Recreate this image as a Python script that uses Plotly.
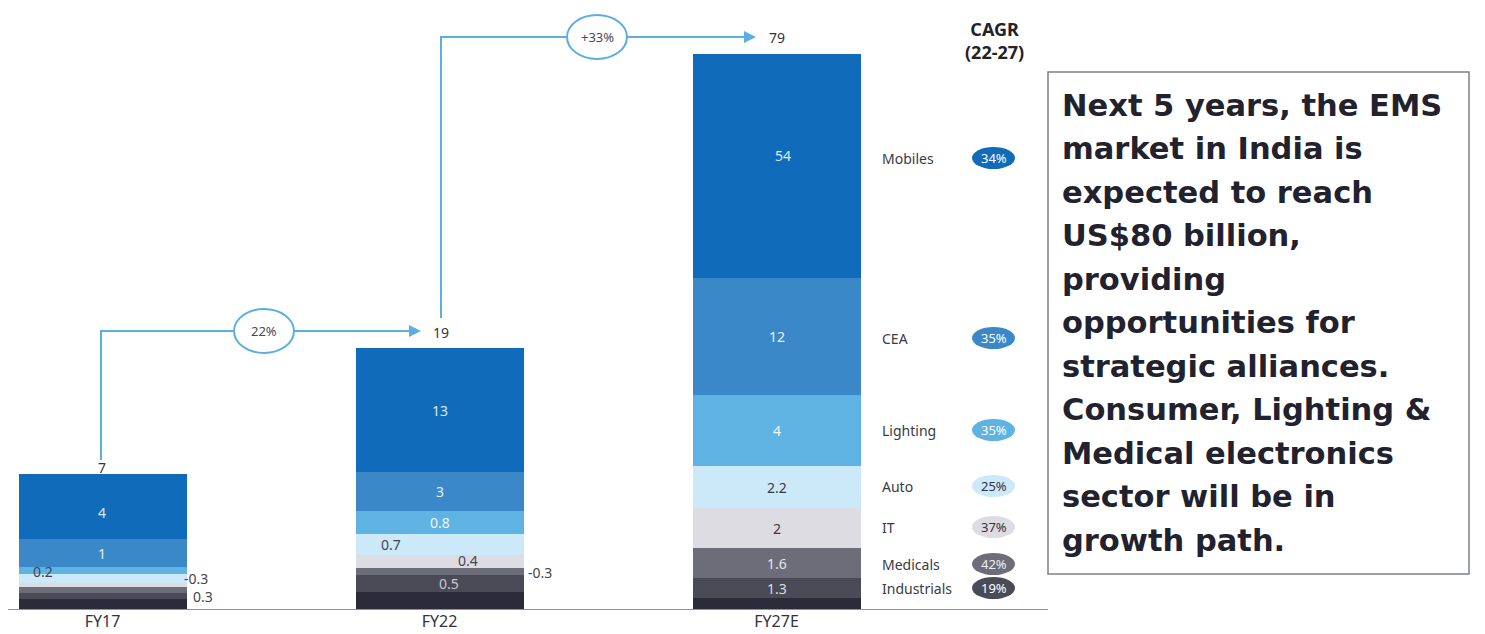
import plotly.graph_objects as go

# Bars: FY17, FY22, FY27E (segment heights as drawn, bottom-to-top order below)
years = ["FY17", "FY22", "FY27E"]
segments = ["Others", "Industrials", "Medicals", "IT", "Auto", "Lighting", "CEA", "Mobiles"]
heights = {
    "Others":      [11, 18, 12],
    "Industrials": [6, 17, 20],
    "Medicals":    [6, 7, 30],
    "IT":          [4, 13, 40],
    "Auto":        [9, 21, 42],
    "Lighting":    [7, 23, 71],
    "CEA":         [28, 39, 117],
    "Mobiles":     [65, 124, 224],
}
seg_labels = {
    "Others":      ["", "", ""],
    "Industrials": ["0.3", "0.5", "1.3"],
    "Medicals":    ["", "-0.3", "1.6"],
    "IT":          ["", "0.4", "2"],
    "Auto":        ["-0.3", "0.7", "2.2"],
    "Lighting":    ["0.2", "0.8", "4"],
    "CEA":         ["1", "3", "12"],
    "Mobiles":     ["4", "13", "54"],
}
totals = ["7", "19", "79"]
growth = ["22%", "+33%"]

legend_names = ["Mobiles", "CEA", "Lighting", "Auto", "IT", "Medicals", "Industrials"]
cagr = ["34%", "35%", "35%", "25%", "37%", "42%", "19%"]

note_lines = [
    "Next 5 years, the EMS",
    "market in India is",
    "expected to reach",
    "US$80 billion,",
    "providing",
    "opportunities for",
    "strategic alliances.",
    "Consumer, Lighting &",
    "Medical electronics",
    "sector will be in",
    "growth path.",
]

colors = {
    "Mobiles": "#106cbb",
    "CEA": "#3b88c9",
    "Lighting": "#5fb3e3",
    "Auto": "#cce9fa",
    "IT": "#dcdce2",
    "Medicals": "#6d6d79",
    "Industrials": "#4b4b57",
    "Others": "#2b2b3a",
}
label_colors = {
    "Mobiles": "#dde9f6", "CEA": "#e3eef8", "Lighting": "#eef7fc",
    "Auto": "#3a3a44", "IT": "#3a3a44", "Medicals": "#e4e4ea",
    "Industrials": "#dadae0", "Others": "#ffffff",
}

W, H = 1485, 634
OFF = 8             # page margin around the plot div
BASE = 610          # baseline pixel row (screen)
X0, STEP = 102.5, 337  # screen pixel centre of first bar, spacing
BAR_W = 168
ARROW = "#5caee2"
FONT = "Noto Sans"


def px(x):
    # screen x -> paper
    return (x - OFF) / W


def py(y):
    # screen y -> data y
    return BASE - y


fig = go.Figure()
xs = list(range(len(years)))
for s in segments:
    fig.add_trace(go.Bar(
        x=xs, y=heights[s], name=s,
        marker=dict(color=colors[s], line=dict(width=0)),
        width=BAR_W / STEP, hoverinfo="skip",
    ))

annotations = []
shapes = []

# segment labels
# special placement for small segments: (year idx, segment) -> (mode, dx, dy)
special = {
    (0, "Lighting"): ("l", 12, -1),
    (0, "Auto"): ("r", -5, 0),
    (0, "Industrials"): ("r", 4, 0),
    (1, "Auto"): ("l", 23, 0),
    (1, "IT"): ("c", 28, 1),
    (1, "Medicals"): ("r", 2, -1),
    (1, "Industrials"): ("c", 9, 0),
    (0, "Mobiles"): ("c", 0, -6),
    (2, "Mobiles"): ("c", 6, 11),
}
for i in xs:
    cum = 0
    for s in segments:
        h = heights[s][i]
        mid = cum + h / 2
        cum += h
        txt = seg_labels[s][i]
        if not txt:
            continue
        mode, dx, dy = special.get((i, s), ("c", 0, 0))
        cx = X0 + i * STEP
        col = label_colors[s]
        if mode == "l":
            x, anchor, col = cx - BAR_W / 2 + dx, "left", "#44444e"
        elif mode == "r":
            x, anchor, col = cx + BAR_W / 2 + dx, "left", "#44444e"
        else:
            x, anchor = cx + dx, "center"
        if (i, s) == (1, "IT"):
            col = "#44444e"
        if (i, s) == (1, "Industrials"):
            col = "#c8c8d0"
        annotations.append(dict(
            x=px(x), xref="paper", y=mid + dy, yref="y", text=txt,
            showarrow=False, xanchor=anchor, yanchor="middle",
            font=dict(family=FONT, size=14, color=col),
        ))
    # totals
    tot_y = {0: 467, 1: 332, 2: 37}[i]
    annotations.append(dict(
        x=px(X0 + i * STEP + [0, 1, 0][i]), xref="paper", y=py(tot_y), yref="y",
        text=totals[i], showarrow=False, xanchor="center", yanchor="middle",
        font=dict(family=FONT, size=14, color="#333340"),
    ))

# growth arrows: elbow from one bar to the next
arrow_specs = [
    # x of vertical, y start (top of value label), y of horizontal, x tip, ellipse centre
    (101, 460, 331, 421, 264),
    (441, 318, 37, 756, 597),
]
for k, (xa, ya, yh, xt, ec) in enumerate(arrow_specs):
    shapes.append(dict(
        type="path", xref="paper", yref="y",
        path=f"M {px(xa)},{py(ya)} L {px(xa)},{py(yh)} L {px(xt - 6)},{py(yh)}",
        line=dict(color=ARROW, width=2),
    ))
    annotations.append(dict(
        x=px(xt), xref="paper", y=py(yh), yref="y", ax=-12, ay=0,
        text="", showarrow=True, arrowhead=2, arrowsize=1.2, arrowwidth=2,
        arrowcolor=ARROW,
    ))
    shapes.append(dict(
        type="circle", xref="paper", yref="y",
        x0=px(ec - 30), x1=px(ec + 30), y0=py(yh - 22), y1=py(yh + 22),
        fillcolor="white", line=dict(color=ARROW, width=2),
    ))
    annotations.append(dict(
        x=px(ec), xref="paper", y=py(yh), yref="y", text=growth[k],
        showarrow=False, xanchor="center", yanchor="middle",
        font=dict(family=FONT, size=13, color="#4a4a55"),
    ))

# CAGR legend on the right
legend_y = [158, 338, 430, 486, 527, 564, 588]
pill_text = ["white", "white", "white", "#33333d", "#33333d", "#eeeeee", "white"]
for name, val, yy, tc in zip(legend_names, cagr, legend_y, pill_text):
    annotations.append(dict(
        x=px(880), xref="paper", y=py(yy), yref="y", text=name,
        showarrow=False, xanchor="left", yanchor="middle",
        font=dict(family=FONT, size=14, color="#3a3a44"),
    ))
    shapes.append(dict(
        type="circle", xref="paper", yref="y",
        x0=px(972), x1=px(1015), y0=py(yy - 11), y1=py(yy + 11),
        fillcolor=colors[name], line=dict(width=0),
    ))
    annotations.append(dict(
        x=px(994), xref="paper", y=py(yy), yref="y", text=val,
        showarrow=False, xanchor="center", yanchor="middle",
        font=dict(family=FONT, size=13, color=tc),
    ))
annotations.append(dict(
    x=px(994), xref="paper", y=py(40), yref="y", text="<b>CAGR<br>(22-27)</b>",
    showarrow=False, xanchor="center", yanchor="middle",
    font=dict(family=FONT, size=18, color="#222228"),
))

# baseline
shapes.append(dict(
    type="line", xref="paper", yref="y", x0=px(8), x1=px(1048), y0=0, y1=0,
    line=dict(color="#8e8eae", width=2),
))

# text box
shapes.append(dict(
    type="rect", xref="paper", yref="y",
    x0=px(1048), x1=px(1469), y0=py(72), y1=py(574),
    line=dict(color="#7d8090", width=1.5), fillcolor="rgba(0,0,0,0)",
))
for j, line in enumerate(note_lines):
    annotations.append(dict(
        x=px(1060), xref="paper", y=py(105 + 43.5 * j), yref="y",
        text=f"<b>{line}</b>", showarrow=False, xanchor="left", yanchor="middle",
        font=dict(family="DejaVu Sans", size=30.5, color="#22222e"),
    ))

fig.update_layout(
    width=W, height=H,
    barmode="stack",
    showlegend=False,
    plot_bgcolor="white",
    paper_bgcolor="white",
    margin=dict(l=0, r=0, t=0, b=H - (BASE - OFF)),
    xaxis=dict(
        range=[(OFF - X0) / STEP, (W + OFF - X0) / STEP],
        tickvals=xs, ticktext=years,
        showgrid=False, zeroline=False, showline=False, ticks="",
        tickfont=dict(family=FONT, size=16, color="#333340"),
        fixedrange=True,
    ),
    yaxis=dict(
        range=[0, BASE - OFF], visible=False, fixedrange=True,
    ),
    shapes=shapes,
    annotations=annotations,
)

fig.write_html("out.html")
